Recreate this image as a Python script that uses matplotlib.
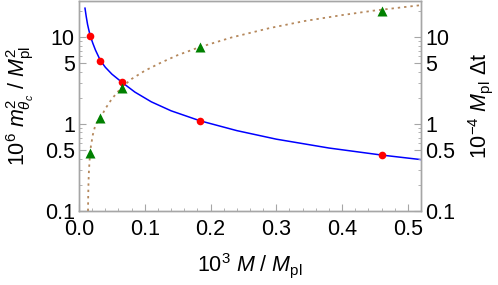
import numpy as np
import matplotlib
matplotlib.use("Agg")
import matplotlib.pyplot as plt
from matplotlib.ticker import FixedLocator, FixedFormatter, NullFormatter, MultipleLocator, FormatStrFormatter

plt.rcParams['font.family'] = ['Liberation Sans', 'DejaVu Sans']
plt.rcParams['mathtext.fontset'] = 'custom'
plt.rcParams['mathtext.rm'] = 'Liberation Sans'
plt.rcParams['mathtext.it'] = 'Liberation Sans:italic'
plt.rcParams['mathtext.bf'] = 'Liberation Sans:bold'

# data points (10^3 M / M_pl)
m_pts = [0.0172, 0.0324, 0.0658, 0.184, 0.46]
mass_pts = [10.3, 5.34, 3.06, 1.09, 0.44]          # red, left axis
dt_pts = [0.464, 1.17, 2.6, 7.7, 20.0]               # green, right axis

# curves
m_blue = [0.0091, 0.011, 0.013, 0.015, 0.0172, 0.021, 0.025, 0.0324, 0.040,
          0.050, 0.0658, 0.085, 0.11, 0.14, 0.184, 0.24, 0.30, 0.38, 0.46, 0.52]
v_blue = [21.5, 17.2, 14.0, 12.0, 10.3, 8.5, 7.1, 5.4, 4.5,
          3.75, 3.0, 2.33, 1.8, 1.42, 1.09, 0.84, 0.67, 0.53, 0.44, 0.39]

m_brown = [0.0137, 0.0140, 0.0145, 0.0152, 0.0165, 0.018, 0.021, 0.025, 0.0334,
           0.040, 0.050, 0.065, 0.080, 0.100, 0.125, 0.150, 0.182, 0.232,
           0.290, 0.343, 0.400, 0.447, 0.52]
v_brown = [0.1, 0.15, 0.22, 0.3, 0.42, 0.55, 0.75, 0.98, 1.2,
           1.5, 1.95, 2.65, 3.3, 4.1, 5.1, 6.2, 7.6, 9.9,
           12.7, 15.3, 17.9, 20.1, 23.3]

ytick_major = [0.1, 0.5, 1, 5, 10]
ytick_labels = ["0.1", "0.5", "1", "5", "10"]
ytick_minor = [0.2, 0.3, 0.4, 0.6, 0.7, 0.8, 0.9, 2, 3, 4, 6, 7, 8, 9, 20]

gray = '#a6a6a6'
fs = 15.5

fig = plt.figure(figsize=(4.98, 2.85), dpi=100)
ax = fig.add_axes([79/498, 1-211/285, 342/498, 210/285])
ax2 = ax.twinx()

ax.plot(m_blue, v_blue, color='blue', lw=1.1, zorder=2)
ax.plot(m_pts, mass_pts, 'o', color='red', ms=5.5, mec='none', zorder=4)
ax2.plot(m_brown, v_brown, color='#b5885c', lw=1.3, ls=(0, (1.3, 2.2)), zorder=2)
ax2.plot(m_pts, dt_pts, '^', color='green', ms=7, mec='none', zorder=4)

for a in (ax, ax2):
    a.set_yscale('log')
    a.set_ylim(0.1, 26)
    a.yaxis.set_major_locator(FixedLocator(ytick_major))
    a.yaxis.set_major_formatter(FixedFormatter(ytick_labels))
    a.yaxis.set_minor_locator(FixedLocator(ytick_minor))
    a.yaxis.set_minor_formatter(NullFormatter())
    for s in a.spines.values():
        s.set_color(gray)
        s.set_linewidth(1.0)

ax.set_xlim(0, 0.52)
ax.xaxis.set_major_locator(MultipleLocator(0.1))
ax.xaxis.set_minor_locator(MultipleLocator(0.02))
ax.xaxis.set_major_formatter(FormatStrFormatter('%.1f'))

ax.tick_params(which='both', direction='in', color=gray, labelsize=fs, top=False, right=False)
ax.tick_params(which='major', length=5, width=0.8)
ax.tick_params(which='minor', length=2.5, width=0.6)
ax.tick_params(axis='x', pad=6)
ax.tick_params(axis='y', pad=3)
ax2.tick_params(which='both', direction='in', color=gray, labelsize=fs, left=False)
ax2.tick_params(which='major', length=5, width=0.8, pad=3)
ax2.tick_params(which='minor', length=2.5, width=0.6)

ax.set_xlabel(r'$10^3\ M\ /\ M_{\rm pl}$', fontsize=fs, labelpad=8)
ax.set_ylabel(r'$10^6\ m^2_{\theta_c}\ /\ M^2_{\rm pl}$', fontsize=fs, labelpad=6)
ax2.set_ylabel(r'$10^{-4}\ M_{\rm pl}\ \Delta {\rm t}$', fontsize=fs, labelpad=8)

plt.savefig('out.png', dpi=100)
